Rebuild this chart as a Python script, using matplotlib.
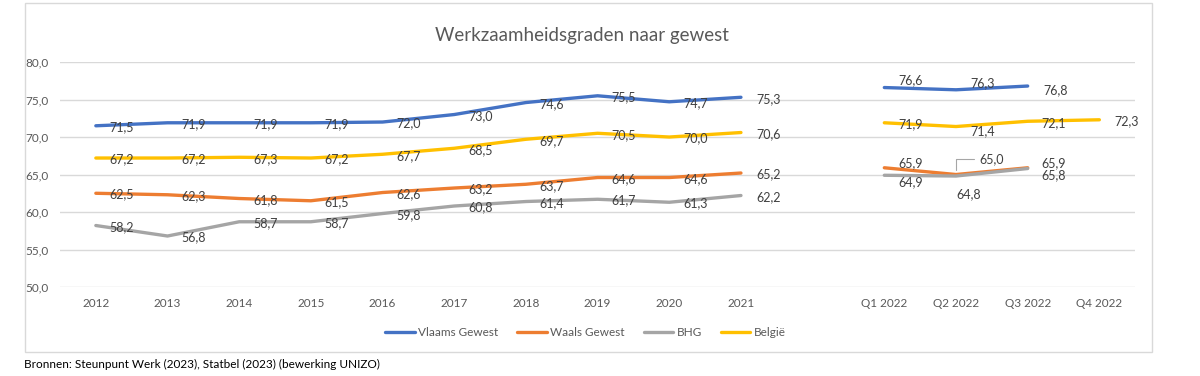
import matplotlib.pyplot as plt
from matplotlib.patches import Rectangle

plt.rcParams['font.family'] = ['Lato', 'DejaVu Sans']

# categorieën (lege plek tussen 2021 en Q1 2022)
labels = ["2012", "2013", "2014", "2015", "2016", "2017", "2018", "2019", "2020", "2021",
          "", "Q1 2022", "Q2 2022", "Q3 2022", "Q4 2022"]
years_pos = list(range(10))
q_pos = [11, 12, 13, 14]

vlaams = [71.5, 71.9, 71.9, 71.9, 72.0, 73.0, 74.6, 75.5, 74.7, 75.3]
waals = [62.5, 62.3, 61.8, 61.5, 62.6, 63.2, 63.7, 64.6, 64.6, 65.2]
bhg = [58.2, 56.8, 58.7, 58.7, 59.8, 60.8, 61.4, 61.7, 61.3, 62.2]
belgie = [67.2, 67.2, 67.3, 67.2, 67.7, 68.5, 69.7, 70.5, 70.0, 70.6]

vlaams_q = [76.6, 76.3, 76.8]
waals_q = [65.9, 65.0, 65.9]
bhg_q = [64.9, 64.8, 65.8]
belgie_q = [71.9, 71.4, 72.1, 72.3]

series = [
    ("Vlaams Gewest", vlaams, vlaams_q, "#4472C4"),
    ("Waals Gewest", waals, waals_q, "#ED7D31"),
    ("BHG", bhg, bhg_q, "#A5A5A5"),
    ("België", belgie, belgie_q, "#FFC000"),
]

fig = plt.figure(figsize=(12, 3.76), dpi=100)
ax = fig.add_axes([0.05, 0.2367, 0.896, 0.5983])

def fmt(v):
    return f"{v:.1f}".replace(".", ",")

for name, yv, qv, col in series:
    ax.plot(years_pos, yv, color=col, lw=2.4, label=name, solid_capstyle='round')
    ax.plot(q_pos[:len(qv)], qv, color=col, lw=2.4, solid_capstyle='round')
    for x, v in zip(years_pos, yv):
        dx = 11 if x == 9 else 10
        ax.annotate(fmt(v), (x, v), xytext=(dx, -1), textcoords='offset points',
                    ha='left', va='center', fontsize=9, color='#404040')

# labels kwartalen (handmatig verschoven zoals in Excel)
offsets = {
    ("Vlaams Gewest", 0): (10, 5), ("Vlaams Gewest", 1): (10, 5), ("Vlaams Gewest", 2): (11, -3),
    ("Waals Gewest", 0): (10, 3), ("Waals Gewest", 2): (10, 3),
    ("BHG", 0): (10, -5), ("BHG", 1): (0, -13), ("BHG", 2): (10, -5),
    ("België", 1): (10, -3), ("België", 3): (11, -1),
}
for name, yv, qv, col in series:
    for i, v in enumerate(qv):
        if (name, i) == ("Waals Gewest", 1):
            # label met leader line
            ax.annotate(fmt(v), (q_pos[i], v), xytext=(17, 11), textcoords='offset points',
                        ha='left', va='center', fontsize=9, color='#404040',
                        arrowprops=dict(arrowstyle='-', color='#A6A6A6', lw=0.8,
                                        relpos=(0, 0.5), shrinkA=2, shrinkB=3,
                                        connectionstyle='angle,angleA=180,angleB=90,rad=0'))
            continue
        dx, dy = offsets.get((name, i), (10, -1))
        ax.annotate(fmt(v), (q_pos[i], v), xytext=(dx, dy), textcoords='offset points',
                    ha='left', va='center', fontsize=9, color='#404040')

ax.set_xlim(-0.5, 14.5)
ax.set_ylim(50, 80)
ax.set_yticks([50, 55, 60, 65, 70, 75, 80])
ax.set_yticklabels([fmt(v) for v in [50, 55, 60, 65, 70, 75, 80]], fontsize=8.5, color='#595959')
ax.set_xticks(range(15))
ax.set_xticklabels(labels, fontsize=8.5, color='#595959')
ax.tick_params(length=0, pad=8)
ax.grid(axis='y', color='#D9D9D9', lw=1)
ax.set_axisbelow(True)
for s in ax.spines.values():
    s.set_visible(False)

fig.text(0.485, 0.905, "Werkzaamheidsgraden naar gewest", ha='center', va='center',
         fontsize=13.5, color='#595959')

leg = fig.legend(loc='center', bbox_to_anchor=(0.488, 0.115), ncol=4, frameon=False,
                 fontsize=8.5, handlelength=2.5, columnspacing=1.6, handletextpad=0.3)
for t in leg.get_texts():
    t.set_color('#595959')

fig.patches.append(Rectangle((25 / 1200, 1 - 352 / 376), 1127 / 1200, 349 / 376,
                             transform=fig.transFigure, fill=False, ec='#D9D9D9', lw=1))

fig.text(24 / 1200, 1 - 364 / 376, "Bronnen: Steunpunt Werk (2023), Statbel (2023) (bewerking UNIZO)",
         ha='left', va='center', fontsize=8.5, color='#000000')

fig.savefig("out.png", dpi=100)
